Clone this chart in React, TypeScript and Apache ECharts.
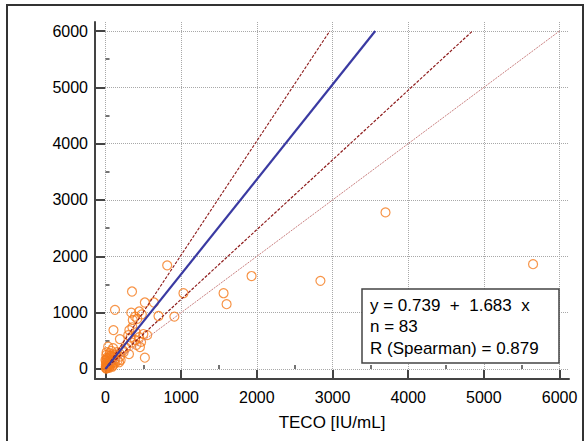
import React, { useEffect, useRef } from "react";
import * as echarts from "echarts";

// ---- data ----
const xTickValues = [0, 1000, 2000, 3000, 4000, 5000, 6000];
const yTickValues = [0, 1000, 2000, 3000, 4000, 5000, 6000];
const xMinorValues = [500, 1500, 2500, 3500, 4500, 5500];
const yMinorValues = [500, 1500, 2500, 3500, 4500, 5500];
const xRange = [-139, 6125];
const yRange = [-178, 6160];

// TECO [IU/mL] (x) and comparison method (y), 83 samples
const tecoValues = [
  5650, 3700, 2840, 1930, 1560, 1600, 1030, 910, 815, 700,
  520, 640, 350, 125, 340, 445, 390, 420, 360, 480,
  105, 315, 355, 190, 445, 500, 345, 410, 455, 390,
  470, 300, 310, 520, 270, 230, 400, 550, 330,
  35, 100, 10, 60, 0, 125, 190, 150, 80, 50,
  20, 5, 15, 30, 40, 70, 90, 10, 25, 55,
  45, 65, 100, 130, 160, 120, 75, 15, 5, 35,
  85, 110, 140, 200, 20, 50, 60, 8, 3, 28,
  12, 95, 180, 240,
];
const otherValues = [
  1860, 2780, 1565, 1650, 1345, 1150, 1345, 930, 1840, 940,
  1180, 1180, 1375, 1050, 1000, 1020, 930, 890, 870, 970,
  690, 690, 740, 530, 565, 620, 470, 430, 390, 515,
  480, 600, 265, 200, 380, 330, 650, 600, 560,
  395, 370, 250, 230, 160, 100, 220, 300, 140, 90,
  50, 20, 10, 30, 60, 80, 40, 120, 180, 280,
  200, 150, 200, 180, 150, 260, 320, 300, 80, 130,
  230, 120, 250, 160, 200, 20, 50, 5, 40, 90,
  160, 60, 120, 300,
];

const regIntercept = 0.739;
const regSlope = 1.683;
const sampleCount = 83;
const spearmanR = 0.879;
const upperBoundSlope = 2.024;
const lowerBoundSlope = 1.237;
const identitySlope = 1;
const lineTopValue = 6000;

const xAxisName = "TECO [IU/mL]";
const statLines = [
  `y = ${regIntercept.toFixed(3)}  +  ${regSlope.toFixed(3)}  x`,
  `n = ${sampleCount}`,
  `R (Spearman) = ${spearmanR.toFixed(3)}`,
];

const FONT = "'Liberation Sans', Arial, sans-serif";

function lineData(intercept: number, slope: number) {
  return [
    [0, intercept],
    [(lineTopValue - intercept) / slope, lineTopValue],
  ];
}

export default function App() {
  const ref = useRef<HTMLDivElement>(null);

  useEffect(() => {
    if (!ref.current) return;
    const chart = echarts.init(ref.current, undefined, { renderer: "svg" });

    const axisColor = "#444";
    const gridStyle = { color: "#a8a8a8", width: 1, type: [1, 1] as any };
    const plain = (v: number) => String(v);

    const mainX = {
      type: "value",
      position: "bottom",
      min: xRange[0],
      max: xRange[1],
      axisLine: { show: true, onZero: false, lineStyle: { color: axisColor, width: 2 } },
      axisTick: { show: true, inside: true, length: 9, customValues: xTickValues, lineStyle: { color: axisColor, width: 2 } },
      axisLabel: { show: true, customValues: xTickValues, formatter: plain, margin: 10, color: "#000", fontSize: 16, fontFamily: FONT },
      splitLine: { show: true, lineStyle: gridStyle },
      name: xAxisName,
      nameLocation: "middle",
      nameGap: 35,
      nameTextStyle: { color: "#000", fontSize: 17, fontFamily: FONT },
    };
    const minorX = {
      type: "value",
      position: "bottom",
      offset: 0,
      min: xRange[0],
      max: xRange[1],
      axisLine: { show: false },
      axisTick: { show: true, inside: true, length: 4, customValues: xMinorValues, lineStyle: { color: axisColor, width: 1.5 } },
      axisLabel: { show: false },
      splitLine: { show: false },
    };
    const mainY = {
      type: "value",
      position: "left",
      min: yRange[0],
      max: yRange[1],
      axisLine: { show: true, onZero: false, lineStyle: { color: axisColor, width: 2 } },
      axisTick: { show: true, inside: true, length: 10, customValues: yTickValues, lineStyle: { color: axisColor, width: 2 } },
      axisLabel: { show: true, customValues: yTickValues, formatter: plain, margin: 7, color: "#000", fontSize: 16, fontFamily: FONT },
      splitLine: { show: true, lineStyle: gridStyle },
    };
    const minorY = {
      type: "value",
      position: "left",
      offset: 0,
      min: yRange[0],
      max: yRange[1],
      axisLine: { show: false },
      axisTick: { show: true, inside: true, length: 4, customValues: yMinorValues, lineStyle: { color: axisColor, width: 1.5 } },
      axisLabel: { show: false },
      splitLine: { show: false },
    };

    const points = tecoValues.map((x, i) => [x, otherValues[i]]);

    const boxX = 362;
    const boxY = 289;

    chart.setOption({
      animation: false,
      backgroundColor: "#fff",
      grid: { left: 95, right: 17, top: 22, bottom: 62, outerBoundsMode: "none" },
      xAxis: [mainX, minorX],
      yAxis: [mainY, minorY],
      series: [
        {
          type: "scatter",
          xAxisIndex: 0,
          yAxisIndex: 0,
          data: points,
          symbol: "circle",
          symbolSize: 9,
          itemStyle: { color: "rgba(255,255,255,0)", borderColor: "#f57a1c", borderWidth: 1.2 },
          z: 2,
        },
        {
          type: "line",
          data: lineData(0, identitySlope),
          showSymbol: false,
          lineStyle: { color: "#c98080", width: 1, type: [2, 1] },
          z: 3,
        },
        {
          type: "line",
          data: lineData(0, lowerBoundSlope),
          showSymbol: false,
          lineStyle: { color: "#8e1c1c", width: 1.2, type: [3, 1.5] },
          z: 3,
        },
        {
          type: "line",
          data: lineData(0, upperBoundSlope),
          showSymbol: false,
          lineStyle: { color: "#8e1c1c", width: 1.2, type: [3, 1.5] },
          z: 3,
        },
        {
          type: "line",
          data: lineData(regIntercept, regSlope),
          showSymbol: false,
          lineStyle: { color: "#3a3aa2", width: 2.2 },
          z: 4,
        },
      ],
      graphic: [
        {
          type: "rect",
          shape: { x: 7, y: 5, width: 576, height: 460 },
          style: { fill: "none", stroke: "#333", lineWidth: 2 },
          silent: true,
          z: 10,
        },
        {
          type: "rect",
          shape: { x: boxX, y: boxY, width: 197, height: 74 },
          style: { fill: "#fff", stroke: "#444", lineWidth: 1.5 },
          z: 20,
        },
        ...statLines.map((t, i) => ({
          type: "text",
          x: boxX + 8,
          y: boxY + 16 + i * 21.5,
          style: {
            text: t,
            fill: "#000",
            font: `17px ${FONT}`,
            textVerticalAlign: "middle",
            verticalAlign: "middle",
          },
          z: 21,
        })),
      ],
    });

    return () => chart.dispose();
  }, []);

  return (
    <div
      ref={ref}
      style={{ position: "fixed", left: 0, top: 0, width: 586, height: 441 }}
    />
  );
}
